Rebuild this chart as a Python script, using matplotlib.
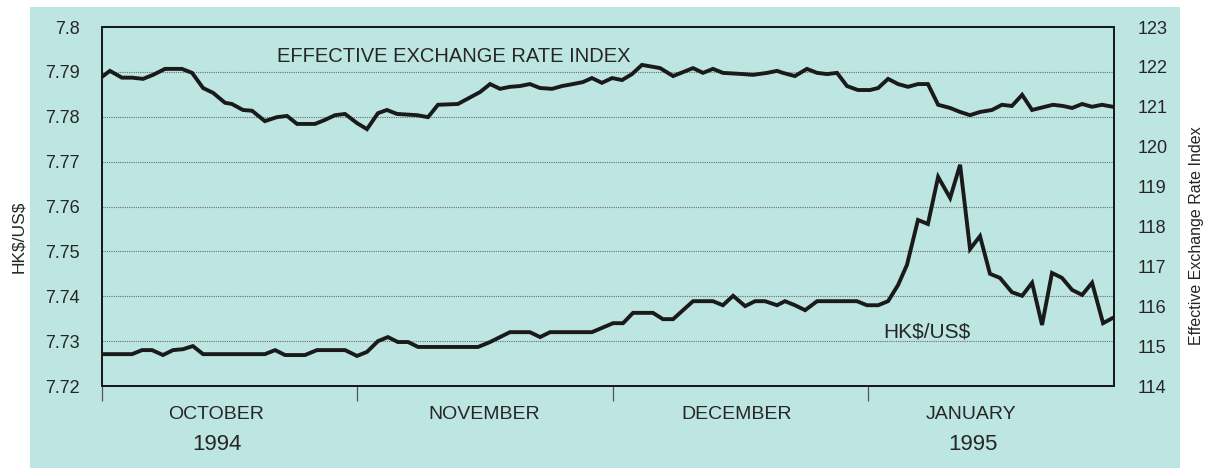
import matplotlib
matplotlib.use("Agg")
import matplotlib.pyplot as plt
from matplotlib.patches import Rectangle

plt.rcParams['font.family'] = ['Liberation Sans', 'DejaVu Sans']

# x positions are in months since 1 October 1994 (0 = Oct 1, 1 = Nov 1, ...)
eer_x = [0.000, 0.031, 0.078, 0.118, 0.161, 0.200, 0.247, 0.313, 0.353, 0.396,
         0.435, 0.482, 0.509, 0.552, 0.588, 0.638, 0.685, 0.725, 0.764, 0.834,
         0.873, 0.913, 0.952, 0.999, 1.038, 1.081, 1.116, 1.156, 1.234, 1.277,
         1.316, 1.394, 1.481, 1.520, 1.559, 1.598, 1.637, 1.676, 1.716, 1.763,
         1.802, 1.845, 1.884, 1.919, 1.958, 1.998, 2.037, 2.076, 2.115, 2.186,
         2.237, 2.276, 2.315, 2.354, 2.393, 2.432, 2.511, 2.550, 2.605, 2.644,
         2.667, 2.714, 2.761, 2.801, 2.840, 2.879, 2.918, 2.961, 3.008, 3.040,
         3.079, 3.118, 3.157, 3.196, 3.235, 3.275, 3.322, 3.361, 3.400, 3.439,
         3.486, 3.525, 3.564, 3.604, 3.643, 3.674, 3.725, 3.764, 3.800, 3.839,
         3.878, 3.917, 3.960]
eer_index = [121.75, 121.90, 121.73, 121.73, 121.70, 121.80, 121.95, 121.95, 121.85, 121.47,
             121.35, 121.10, 121.07, 120.92, 120.90, 120.64, 120.74, 120.77, 120.57, 120.57,
             120.67, 120.79, 120.82, 120.59, 120.44, 120.84, 120.92, 120.82, 120.79, 120.74,
             121.05, 121.07, 121.37, 121.57, 121.45, 121.50, 121.52, 121.57, 121.47, 121.45,
             121.52, 121.57, 121.62, 121.72, 121.60, 121.72, 121.67, 121.82, 122.05, 121.97,
             121.77, 121.87, 121.97, 121.85, 121.95, 121.85, 121.82, 121.80, 121.85, 121.90,
             121.85, 121.77, 121.95, 121.85, 121.82, 121.85, 121.52, 121.42, 121.42, 121.47,
             121.70, 121.57, 121.50, 121.57, 121.57, 121.05, 120.97, 120.87, 120.79, 120.87,
             120.92, 121.05, 121.02, 121.30, 120.92, 120.97, 121.05, 121.02, 120.97, 121.07,
             121.00, 121.05, 121.00]

hkd_x = [0.000, 0.118, 0.157, 0.196, 0.239, 0.278, 0.317, 0.356, 0.396, 0.638,
         0.678, 0.717, 0.795, 0.842, 0.952, 0.999, 1.038, 1.081, 1.120, 1.159,
         1.199, 1.238, 1.473, 1.520, 1.598, 1.676, 1.716, 1.755, 1.919, 2.002,
         2.041, 2.080, 2.158, 2.197, 2.237, 2.315, 2.393, 2.432, 2.472, 2.519,
         2.558, 2.597, 2.644, 2.675, 2.714, 2.754, 2.801, 2.957, 2.996, 3.040,
         3.079, 3.118, 3.153, 3.196, 3.235, 3.275, 3.322, 3.361, 3.400, 3.439,
         3.478, 3.517, 3.564, 3.604, 3.643, 3.682, 3.721, 3.760, 3.800, 3.839,
         3.878, 3.921, 3.960]
hkd_rate = [7.7271, 7.7271, 7.7280, 7.7280, 7.7269, 7.7280, 7.7282, 7.7289, 7.7271, 7.7271,
            7.7280, 7.7269, 7.7269, 7.7280, 7.7280, 7.7267, 7.7276, 7.7300, 7.7309, 7.7298,
            7.7298, 7.7287, 7.7287, 7.7298, 7.7320, 7.7320, 7.7309, 7.7320, 7.7320, 7.7340,
            7.7340, 7.7363, 7.7363, 7.7349, 7.7349, 7.7389, 7.7389, 7.7380, 7.7401, 7.7378,
            7.7389, 7.7389, 7.7380, 7.7389, 7.7380, 7.7369, 7.7389, 7.7389, 7.7380, 7.7380,
            7.7389, 7.7425, 7.7470, 7.7570, 7.7561, 7.7666, 7.7619, 7.7693, 7.7505, 7.7534,
            7.7450, 7.7441, 7.7409, 7.7401, 7.7430, 7.7336, 7.7452, 7.7441, 7.7414, 7.7403,
            7.7430, 7.7340, 7.7352]

left_ticks = [7.72, 7.73, 7.74, 7.75, 7.76, 7.77, 7.78, 7.79, 7.8]
left_labels = ['7.72', '7.73', '7.74', '7.75', '7.76', '7.77', '7.78', '7.79', '7.8']
right_ticks = [114, 115, 116, 117, 118, 119, 120, 121, 122, 123]
month_ticks = [0, 1, 2, 3]
month_names = ['OCTOBER', 'NOVEMBER', 'DECEMBER', 'JANUARY']
month_centers = [0.447, 1.496, 2.487, 3.404]
year_names = ['1994', '1995']
year_centers = [0.45, 3.41]

panel = '#bde5e2'
ink = '#1a1a1a'
text_col = '#262626'

fig = plt.figure(figsize=(12.17, 4.68), dpi=100)

# teal background panel behind the chart
bg = fig.add_axes([0, 0, 1, 1], zorder=-5)
bg.set_axis_off()
bg.set_xlim(0, 1)
bg.set_ylim(0, 1)
bg.add_patch(Rectangle((0.0247, 0.0), 0.9449, 0.985, facecolor=panel, edgecolor='none'))

ax = fig.add_axes([0.0838, 0.1752, 0.8316, 0.7671])
ax.set_facecolor('none')
ax2 = ax.twinx()
ax2.set_facecolor('none')

ax.set_xlim(0, 3.964)
ax.set_ylim(7.72, 7.80)
ax2.set_ylim(114, 123)

# dotted grid lines at left-axis ticks
for v in left_ticks[1:-1]:
    ax.axhline(v, color='#6a7070', lw=0.8, ls=(0, (1, 1)), zorder=1)

ax.plot(hkd_x, hkd_rate, color=ink, lw=2.8, solid_joinstyle='miter', zorder=3)
ax2.plot(eer_x, eer_index, color=ink, lw=2.8, solid_joinstyle='miter', zorder=3)

for a in (ax, ax2):
    for s in a.spines.values():
        s.set_color(ink)
        s.set_linewidth(1.4)

ax.set_yticks(left_ticks)
ax.set_yticklabels(left_labels)
ax.tick_params(axis='y', length=0, pad=16, labelsize=13, labelcolor=text_col)
ax2.set_yticks(right_ticks)
ax2.tick_params(axis='y', length=0, pad=17, labelsize=13, labelcolor=text_col)

ax.set_xticks(month_ticks)
ax.set_xticklabels([])
ax.tick_params(axis='x', direction='out', length=11, width=0.9, color='#555555')

xt = ax.get_xaxis_transform()
for name, c in zip(month_names, month_centers):
    ax.text(c, -0.08, name, transform=xt, ha='center', va='center',
            fontsize=14, color=text_col)
for name, c in zip(year_names, year_centers):
    ax.text(c, -0.162, name, transform=xt, ha='center', va='center',
            fontsize=16, color=text_col)

ax.text(0.685, 7.7935, 'EFFECTIVE EXCHANGE RATE INDEX', ha='left', va='center',
        fontsize=14.5, color=text_col)
ax.text(3.059, 7.7320, r'HK\$/US\$', ha='left', va='center', fontsize=15, color=text_col)

fig.text(0.0156, 0.495, r'HK\$/US\$', rotation=90, ha='center', va='center',
         fontsize=12.5, color=text_col)
fig.text(0.9835, 0.496, 'Effective Exchange Rate Index', rotation=90, ha='center',
         va='center', fontsize=11.5, color=text_col)

fig.savefig('out.png', dpi=100)
